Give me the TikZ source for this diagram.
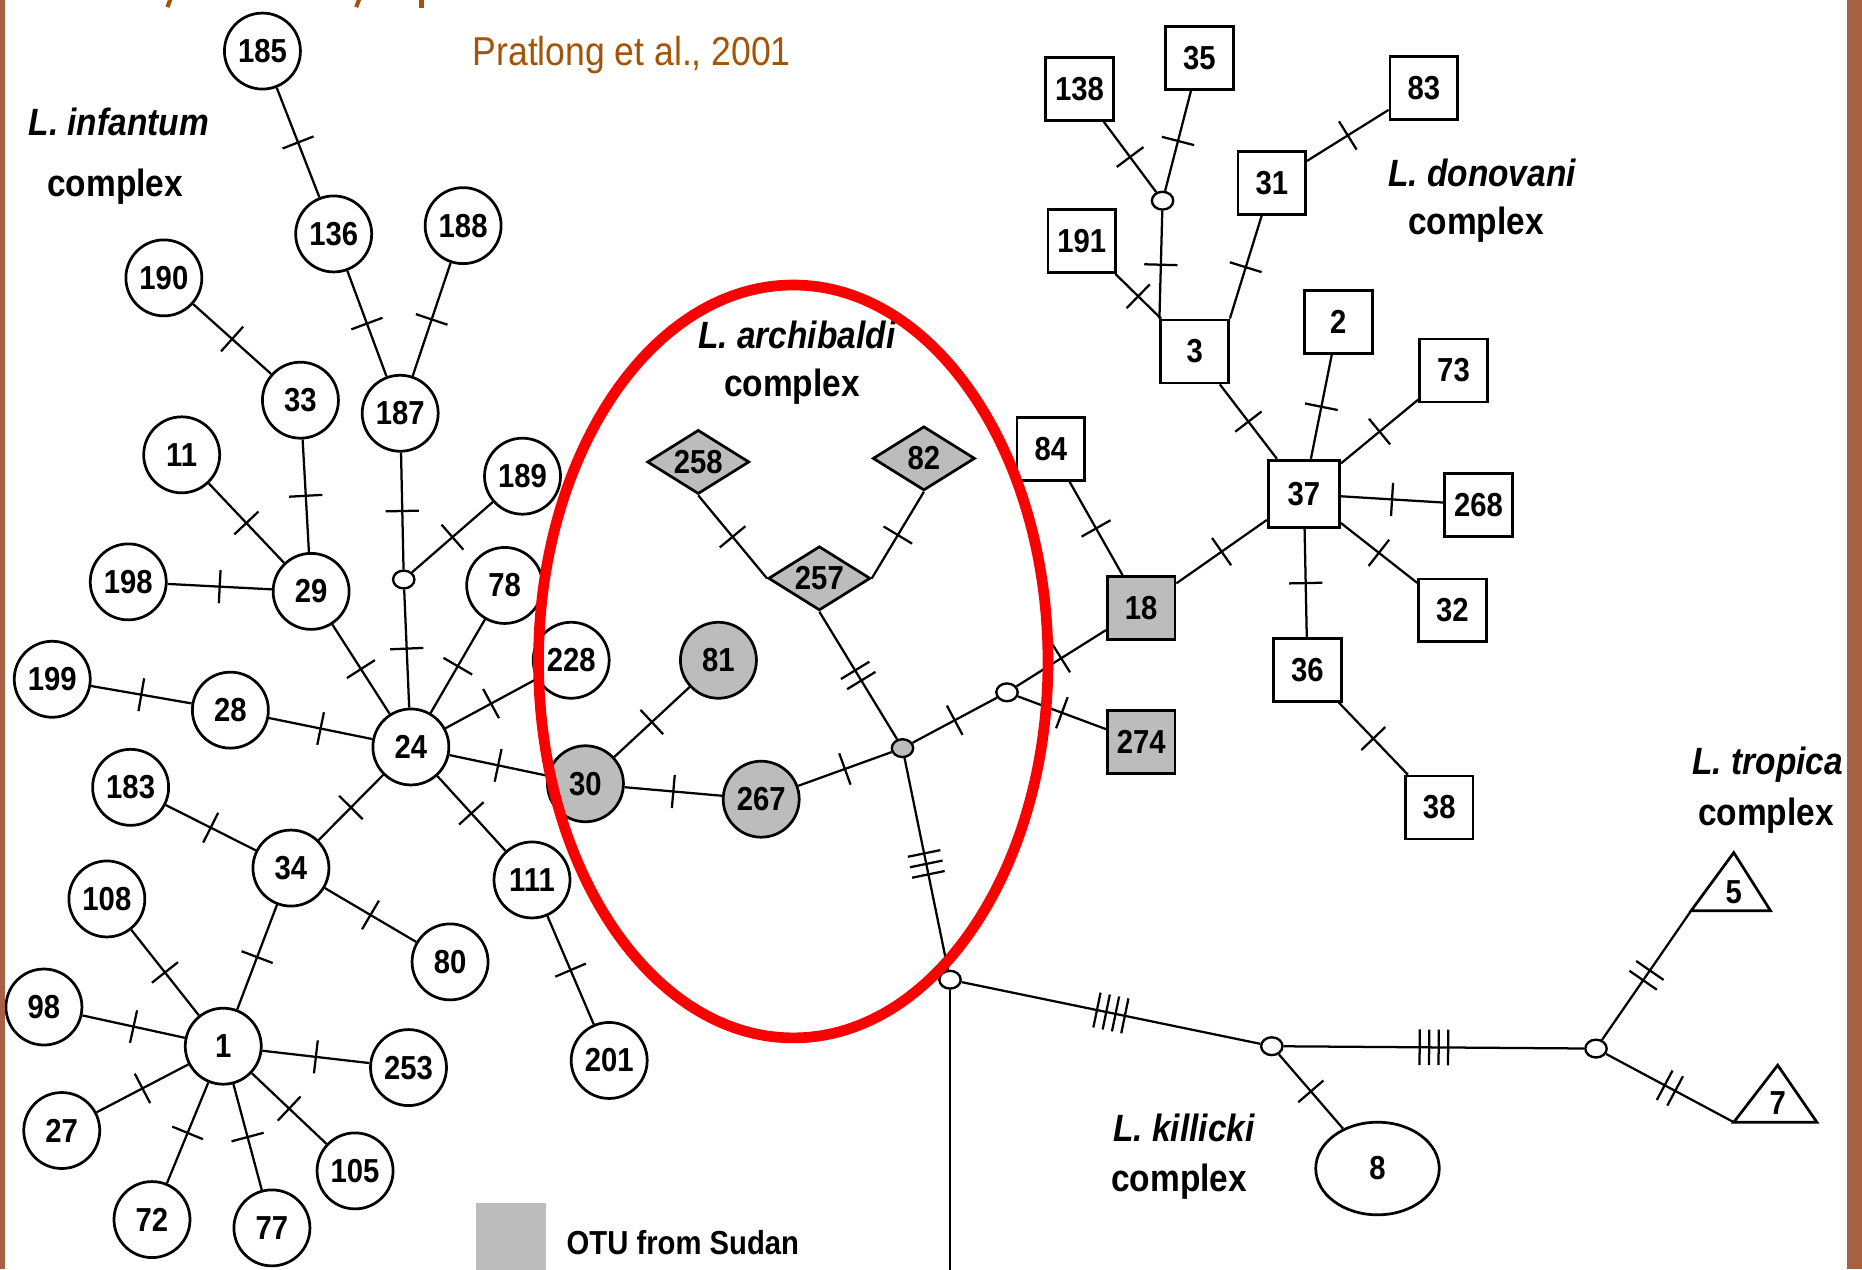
\documentclass[tikz,border=0pt]{standalone}
\usepackage{fontspec}
\setmainfont[FakeStretch=0.88]{Liberation Sans}
\usetikzlibrary{shapes.geometric,decorations.markings}
\definecolor{brd}{RGB}{166,96,66}
\definecolor{ttl}{RGB}{163,84,8}
\definecolor{otu}{RGB}{188,188,188}
\definecolor{redl}{RGB}{250,0,0}
\tikzset{
  num/.style={font=\fontsize{28}{32}\selectfont\bfseries, inner sep=0pt},
  cnode/.style={circle, draw, line width=2.3pt, minimum size=64pt, num, fill=white},
  gnode/.style={cnode, fill=otu},
  snode/.style={rectangle, draw, line width=2.3pt, minimum width=57pt, minimum height=53pt, num, fill=white},
  gsnode/.style={snode, fill=otu},
  dnode/.style={diamond, aspect=1.6, draw, line width=2.3pt, minimum width=86pt, minimum height=54pt, num, fill=otu},
  jnode/.style={ellipse, draw, line width=2pt, minimum width=18pt, minimum height=15pt, inner sep=0pt, fill=white},
  lab/.style={font=\fontsize{32}{36}\selectfont\bfseries, inner sep=0pt},
  labi/.style={font=\fontsize{32}{36}\selectfont\bfseries\itshape, inner sep=0pt},
  edge/.style={line width=1.9pt},
  tk/.style={line width=1.9pt},
  t1/.style={edge, decoration={markings, mark=at position 0.5 with {\draw[tk] (0pt,-14pt) -- (0pt,14pt);}}, postaction=decorate},
  t2/.style={edge, decoration={markings, mark=at position 0.5 with {\draw[tk] (-5pt,-14pt) -- (-5pt,14pt) (5pt,-14pt) -- (5pt,14pt);}}, postaction=decorate},
  t3/.style={edge, decoration={markings, mark=at position 0.5 with {\draw[tk] (-9pt,-14pt) -- (-9pt,14pt) (0pt,-14pt) -- (0pt,14pt) (9pt,-14pt) -- (9pt,14pt);}}, postaction=decorate},
  t4/.style={edge, decoration={markings, mark=at position 0.5 with {\draw[tk] (-12pt,-15pt) -- (-12pt,15pt) (-4pt,-15pt) -- (-4pt,15pt) (4pt,-15pt) -- (4pt,15pt) (12pt,-15pt) -- (12pt,15pt);}}, postaction=decorate},
}
\begin{document}
\begin{tikzpicture}[x=1pt,y=-1pt]
\useasboundingbox (0,0) rectangle (1568,1069);
\fill[white] (0,0) rectangle (1568,1069);

% cut-off title fragments
\draw[ttl, line width=3.5pt] (144,-2) -- (141,6);
\fill[ttl] (211,-2) arc[start angle=180, end angle=360, x radius=8, y radius=7] -- cycle;
\draw[ttl, line width=3.5pt] (303,-2) -- (300,6);
\draw[ttl, line width=3.5pt] (355,-2) -- (355,7);
\fill[ttl] (822,-2) arc[start angle=180, end angle=360, x radius=8, y radius=7] -- cycle;

% L. infantum complex
\node[cnode] (n185) at (221,43) {185};
\node[cnode] (n136) at (281,197) {136};
\node[cnode] (n188) at (390,190) {188};
\node[cnode] (n190) at (138,234) {190};
\node[cnode] (n33) at (253,337) {33};
\node[cnode] (n187) at (337,348) {187};
\node[cnode] (n11) at (153,383) {11};
\node[cnode] (n189) at (440,401) {189};
\node[cnode] (n198) at (108,490) {198};
\node[cnode] (n29) at (262,498) {29};
\node[jnode] (j1) at (340,488) {};
\node[cnode] (n78) at (425,493) {78};
\node[cnode] (n199) at (44,572) {199};
\node[cnode] (n28) at (194,598) {28};
\node[cnode] (n228) at (481,556) {228};
\node[cnode] (n24) at (346,629) {24};
\node[gnode] (n30) at (493,660) {30};
\node[cnode] (n183) at (110,663) {183};
\node[cnode] (n34) at (245,731) {34};
\node[cnode] (n111) at (448,741) {111};
\node[cnode] (n108) at (90,757) {108};
\node[cnode] (n80) at (379,810) {80};
\node[cnode] (n98) at (37,848) {98};
\node[cnode] (n1) at (188,881) {1};
\node[cnode] (n253) at (344,899) {253};
\node[cnode] (n201) at (513,893) {201};
\node[cnode] (n27) at (52,952) {27};
\node[cnode] (n105) at (299,986) {105};
\node[cnode] (n72) at (128,1027) {72};
\node[cnode] (n77) at (229,1034) {77};

% L. archibaldi complex
\node[dnode] (n258) at (588,389) {258};
\node[dnode] (n82) at (778,386) {82};
\node[dnode] (n257) at (690,487) {257};
\node[gnode] (n81) at (605,556) {81};
\node[gnode] (n267) at (641,673) {267};
\node[jnode, fill=otu] (jg) at (760,630) {};
\node[jnode] (jw) at (848,583) {};
\node[jnode] (jb) at (800,825) {};
\coordinate (bot) at (800,1072);

% L. donovani complex
\node[snode] (n138) at (909,75) {138};
\node[snode] (n35) at (1010,49) {35};
\node[snode] (n83) at (1199,74) {83};
\node[jnode] (j3) at (979,169) {};
\node[snode] (n31) at (1071,154) {31};
\node[snode] (n191) at (911,203) {191};
\node[snode] (n3) at (1006,296) {3};
\node[snode] (n2) at (1127,271) {2};
\node[snode] (n73) at (1224,312) {73};
\node[snode] (n84) at (885,378) {84};
\node[snode, minimum width=60pt, minimum height=57pt] (n37) at (1098,416) {37};
\node[snode] (n268) at (1245,425) {268};
\node[gsnode] (n18) at (961,512) {18};
\node[snode] (n32) at (1223,514) {32};
\node[snode] (n36) at (1101,564) {36};
\node[gsnode] (n274) at (961,625) {274};
\node[snode] (n38) at (1212,680) {38};

% L. killicki / L. tropica
\node[jnode] (jk) at (1071,881) {};
\node[jnode] (jt) at (1344,883) {};
\node[ellipse, draw, line width=2.3pt, minimum width=104pt, minimum height=78pt, num, fill=white] (n8) at (1160,984) {8};
\coordinate (t5a) at (1424,767);
\coordinate (t5b) at (1491,767);
\coordinate (t5c) at (1460,718);
\coordinate (t7a) at (1460,945);
\coordinate (t7b) at (1530,945);
\coordinate (t7c) at (1497,897);
\draw[line width=2.3pt, line join=miter] (t5a) -- (t5b) -- (t5c) -- cycle;
\draw[line width=2.3pt, line join=miter] (t7a) -- (t7b) -- (t7c) -- cycle;
\node[num] (n5) at (1460,751) {5};
\node[num] (n7) at (1497,929) {7};

% edges
\draw[t1] (n185) -- (n136);
\draw[t1] (n136) -- (n187);
\draw[t1] (n188) -- (n187);
\draw[t1] (n190) -- (n33);
\draw[t1] (n33) -- (n29);
\draw[t1] (n11) -- (n29);
\draw[t1] (n198) -- (n29);
\draw[t1] (n29) -- (n24);
\draw[t1] (n187) -- (j1);
\draw[t1] (n189) -- (j1);
\draw[t1] (j1) -- (n24);
\draw[t1] (n78) -- (n24);
\draw[t1] (n228) -- (n24);
\draw[t1] (n199) -- (n28);
\draw[t1] (n28) -- (n24);
\draw[t1] (n24) -- (n30);
\draw[t1] (n24) -- (n34);
\draw[t1] (n24) -- (n111);
\draw[t1] (n183) -- (n34);
\draw[t1] (n34) -- (n80);
\draw[t1] (n34) -- (n1);
\draw[t1] (n108) -- (n1);
\draw[t1] (n98) -- (n1);
\draw[t1] (n1) -- (n253);
\draw[t1] (n27) -- (n1);
\draw[t1] (n72) -- (n1);
\draw[t1] (n77) -- (n1);
\draw[t1] (n105) -- (n1);
\draw[t1] (n111) -- (n201);
\draw[t1] (n30) -- (n81);
\draw[t1] (n30) -- (n267);
\draw[t1] (n267) -- (jg);
\draw[t1] (n258.south) -- (n257.west);
\draw[t1] (n82.south) -- (n257.east);
\draw[t2] (n257.south) -- (jg);
\draw[t1] (jg) -- (jw);
\draw[t1] (jw) -- (n18);
\draw[t1] (jw) -- (n274);
\draw[t3] (jg) -- (jb);
\draw[edge] (jb) -- (bot);
\draw[t4] (jb) -- (jk);
\draw[t1] (n84) -- (n18);
\draw[t1] (n18) -- (n37);
\draw[t1] (n37) -- (n3);
\draw[t1] (n37) -- (n2);
\draw[t1] (n37) -- (n73);
\draw[t1] (n37) -- (n268);
\draw[t1] (n37) -- (n32);
\draw[t1] (n37) -- (n36);
\draw[t1] (n36) -- (n38);
\draw[t1] (n191) -- (n3);
\draw[t1] (j3) -- (n3.north west);
\draw[t1] (n3.north east) -- (n31);
\draw[t1] (j3) -- (n138);
\draw[t1] (j3) -- (n35);
\draw[t1] (n31) -- (n83);
\draw[t1] (jk) -- (n8);
\draw[t4] (jk) -- (jt);
\draw[t2] (jt) -- (t5a);
\draw[t2] (jt) -- (t7a);

% labels
\node[labi] (linf) at (100,103) {L. infantum};
\node[lab] (cinf) at (97,157) {complex};
\node[labi] (ldon) at (1248,146) {L. donovani};
\node[lab] (cdon) at (1243,189) {complex};
\node[labi] (larc) at (671,282) {L. archibaldi};
\node[lab] (carc) at (667,326) {complex};
\node[labi, anchor=west] (ltro) at (1425,644) {L. tropica};
\node[lab] (ctro) at (1487,687) {complex};
\node[labi] (lkil) at (997,950) {L. killicki};
\node[lab] (ckil) at (993,995) {complex};
\node[font=\fontsize{34}{38}\selectfont, text=ttl, inner sep=0pt] (cite) at (532,46) {Pratlong et al., 2001};

% legend
\fill[otu] (401,1013) rectangle (460,1072);
\node[font=\fontsize{28}{32}\selectfont\bfseries, anchor=west, inner sep=0pt] (leg) at (477,1046) {OTU from Sudan};

% red ellipse
\draw[redl, line width=9pt] (668,557) ellipse [x radius=214.5, y radius=317];

% borders
\fill[brd] (0,0) rectangle (4,1069);
\fill[brd] (1555,0) rectangle (1568,1069);
\end{tikzpicture}
\end{document}
